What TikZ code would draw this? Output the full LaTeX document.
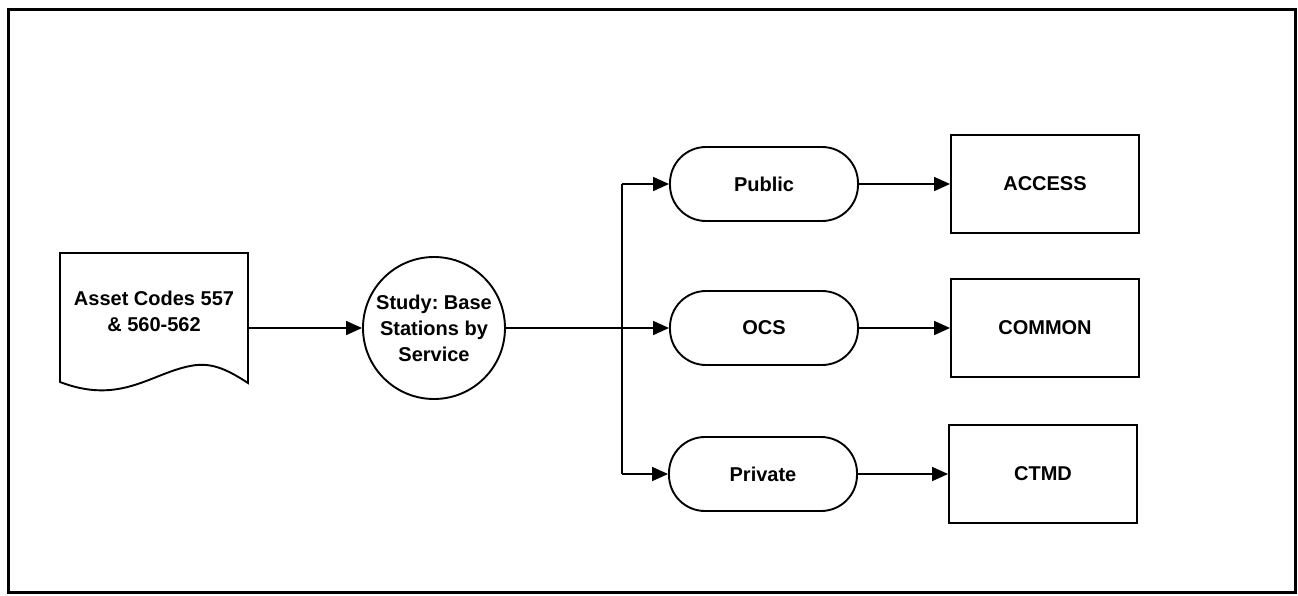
\documentclass[tikz,border=0pt]{standalone}
\usepackage{fontspec}
\setmainfont{Liberation Sans}
\usetikzlibrary{arrows.meta}
\frenchspacing
\begin{document}
\begin{tikzpicture}[x=1pt,y=-1pt,
  every node/.style={font=\fontsize{20}{26}\selectfont\bfseries, align=center, inner sep=0pt},
  shape line/.style={line width=1.9pt},
  pill/.style={shape line, draw, rectangle, rounded corners=36pt, minimum width=188pt, minimum height=74pt},
  outbox/.style={shape line, draw, rectangle, minimum width=188pt, minimum height=98pt},
  conn/.style={line width=1.6pt, -{Triangle[length=16pt,width=14pt]}},
  link/.style={line width=1.6pt}]
\useasboundingbox (0,0) rectangle (1298,595);
\draw[line width=3pt] (8,9) rectangle (1295,592);
% document shape
\draw[shape line] (60,382) -- (60,253) -- (248,253) -- (248,383)
  .. controls (225,368) and (210,362) .. (190,366)
  .. controls (150,374) and (120,405) .. (60,382) -- cycle;
\node (doc) at (154,311.5) {Asset Codes 557\\\& 560-562};
\coordinate (docR) at (248,328);
% circle
\node[shape line, draw, circle, minimum size=142pt] (study) at (434,328) {Study: Base\\Stations by\\Service};
% pills
\node[pill] (public) at (764,184) {Public};
\node[pill] (ocs) at (764,328) {OCS};
\node[pill] (private) at (763,474) {Private};
% boxes
\node[outbox] (access) at (1045,184) {ACCESS};
\node[outbox] (common) at (1045,328) {COMMON};
\node[outbox] (ctmd) at (1043,474) {CTMD};
% connectors
\draw[conn] (docR) -- (study.west);
\draw[conn] (study.east) -- (ocs.west);
\coordinate (splitTop) at (622,184);
\coordinate (splitBot) at (622,474);
\draw[link] (splitTop) -- (splitBot);
\draw[conn] (splitTop) -- (public.west);
\draw[conn] (splitBot) -- (private.west);
\draw[conn] (public.east) -- (access.west);
\draw[conn] (ocs.east) -- (common.west);
\draw[conn] (private.east) -- (ctmd.west);
\end{tikzpicture}
\end{document}
